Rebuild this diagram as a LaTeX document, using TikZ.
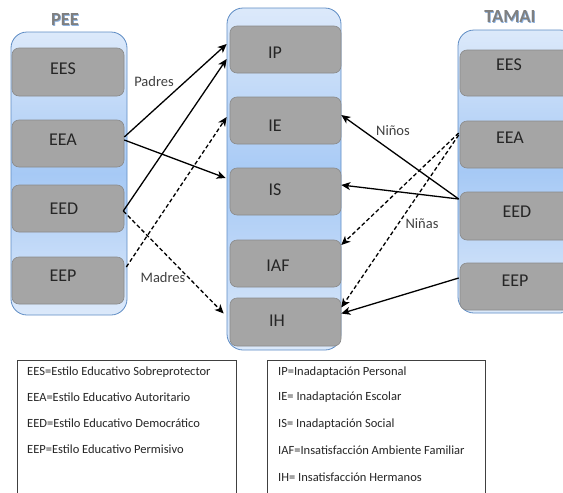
\documentclass[tikz,border=0pt]{standalone}
\usepackage{fontspec}
\setmainfont{Carlito}
\usetikzlibrary{arrows.meta,calc}
\definecolor{cTop}{HTML}{DCE9FA}
\definecolor{cMid}{HTML}{A6C9F5}
\definecolor{cBorder}{HTML}{5E8CC4}
\definecolor{bFill}{HTML}{A5A5A5}
\definecolor{bBorder}{HTML}{8A8A8A}
\definecolor{txt}{HTML}{262626}
\definecolor{lbl}{HTML}{404040}
\definecolor{ttl}{HTML}{7F7F7F}
\definecolor{glow}{HTML}{8DB3E2}
\begin{document}
\begin{tikzpicture}[x=1pt,y=-1pt,
  container/.style={draw=cBorder, line width=0.8pt, rounded corners=16pt,
    top color=cTop, bottom color=cTop, middle color=cMid, inner sep=0pt},
  box/.style={draw=bBorder, fill=bFill, line width=0.6pt, rounded corners=7pt, inner sep=0pt},
  boxtext/.style={text=txt, font=\fontsize{18}{20}\selectfont, inner sep=0pt},
  lab/.style={text=lbl, font=\fontsize{14.5}{16}\selectfont, inner sep=0pt},
  ttlshadow/.style={text=glow, font=\bfseries\fontsize{18.5}{20}\selectfont, inner sep=0pt},
  ttltext/.style={text=ttl, font=\bfseries\fontsize{18.5}{20}\selectfont, inner sep=0pt},
  legbox/.style={draw=black!75, line width=0.6pt, fill=white, inner sep=0pt},
  legtext/.style={text=txt, anchor=west, font=\fontsize{12.5}{14}\selectfont, inner sep=0pt},
  arr/.style={-{Stealth[length=9pt,width=8pt,inset=2.5pt]}, line width=1.3pt, draw=black},
  darr/.style={arr, dash pattern=on 4pt off 2.5pt}]
\useasboundingbox (0,0) rectangle (563,493);
\clip (0,0) rectangle (563,493);

% titles
\node[ttlshadow] (tPEEs) at (65.8,20.8) {PEE};
\node[ttltext] (tPEE) at (65,20) {PEE};
\node[ttlshadow] (tTAMs) at (510.8,17.8) {TAMAI};
\node[ttltext] (tTAM) at (510,17) {TAMAI};

% containers
\node[container, minimum width=116, minimum height=283] (cL) at (69,173.5) {};
\node[container, minimum width=114, minimum height=342] (cM) at (284,179) {};
\node[container, minimum width=118, minimum height=283] (cR) at (517,171.5) {};

% left boxes
\node[box, minimum width=112, minimum height=48] (LEES) at (68,72) {};
\node[box, minimum width=112, minimum height=47] (LEEA) at (68,143.5) {};
\node[box, minimum width=112, minimum height=47] (LEED) at (68,208.5) {};
\node[box, minimum width=112, minimum height=47] (LEEP) at (68,280.5) {};
\node[boxtext] (tLEES) at (63,69) {EES};
\node[boxtext] (tLEEA) at (63,140) {EEA};
\node[boxtext] (tLEED) at (64,209) {EED};
\node[boxtext] (tLEEP) at (63,276) {EEP};

% middle boxes
\node[box, minimum width=111, minimum height=47] (IP) at (285.5,49.5) {};
\node[box, minimum width=111, minimum height=47] (IE) at (285.5,120.5) {};
\node[box, minimum width=111, minimum height=47] (IS) at (285.5,191.5) {};
\node[box, minimum width=111, minimum height=47] (IAF) at (285.5,263.5) {};
\node[box, minimum width=111, minimum height=48] (IH) at (285.5,322) {};
\node[boxtext] (tIP) at (275,53) {IP};
\node[boxtext] (tIE) at (275,126) {IE};
\node[boxtext] (tIS) at (275,190) {IS};
\node[boxtext] (tIAF) at (278,266) {IAF};
\node[boxtext] (tIH) at (277,321) {IH};

% right boxes
\node[box, minimum width=114, minimum height=46] (REES) at (517,73) {};
\node[box, minimum width=114, minimum height=47] (REEA) at (517,144.5) {};
\node[box, minimum width=114, minimum height=48] (REED) at (517,216) {};
\node[box, minimum width=114, minimum height=47] (REEP) at (517,286.5) {};
\node[boxtext] (tREES) at (509,65) {EES};
\node[boxtext] (tREEA) at (510,138) {EEA};
\node[boxtext] (tREED) at (517,212) {EED};
\node[boxtext] (tREEP) at (515,281) {EEP};

% left connectors
\draw[arr] ([yshift=6.5pt]LEEA.east) -- ([xshift=-3pt,yshift=5.5pt]IP.west);
\draw[arr] ([yshift=3.5pt]LEEA.east) -- ([xshift=-4pt,yshift=13.5pt]IS.west);
\draw[arr] ([xshift=-1pt,yshift=-2.5pt]LEED.east) -- ([xshift=-3pt,yshift=-9.5pt]IP.west);
\draw[darr] ([xshift=-1pt,yshift=-2.5pt]LEED.east) -- ([xshift=-6pt,yshift=8.5pt]IH.west);
\draw[darr] ([xshift=2pt,yshift=13.5pt]LEEP.east) -- ([xshift=-3pt,yshift=3.5pt]IE.west);

% right connectors
\draw[arr] ([xshift=-1pt,yshift=17pt]REED.west) -- ([yshift=5.5pt]IE.east);
\draw[arr] ([xshift=-1pt,yshift=17pt]REED.west) -- ([yshift=6.5pt]IS.east);
\draw[darr] ([xshift=-1pt,yshift=11.5pt]REEA.west) -- ([yshift=18.5pt]IAF.east);
\draw[darr] ([xshift=-1pt,yshift=9.5pt]REEA.west) -- ([yshift=14.5pt]IH.east);
\draw[arr] ([xshift=-1pt,yshift=8.5pt]REEP.west) -- ([yshift=8.5pt]IH.east);

% connector labels
\node[lab] (padres) at (154,82) {Padres};
\node[lab] (madres) at (163,278) {Madres};
\node[lab] (ninos) at (393,131) {Niños};
\node[lab] (ninas) at (422,224) {Niñas};

% legends
\node[legbox, minimum width=219, minimum height=150] (legL) at (126.5,435) {};
\node[legbox, minimum width=218, minimum height=150] (legR) at (376.5,435) {};
\node[legtext] (l1) at (27,372) {EES=Estilo Educativo Sobreprotector};
\node[legtext] (l2) at (27,397) {EEA=Estilo Educativo Autoritario};
\node[legtext] (l3) at (27,423) {EED=Estilo Educativo Democrático};
\node[legtext] (l4) at (27,449) {EEP=Estilo Educativo Permisivo};
\node[legtext] (r1) at (278,372) {IP=Inadaptación Personal};
\node[legtext] (r2) at (278,397) {IE= Inadaptación Escolar};
\node[legtext] (r3) at (278,424) {IS= Inadaptación Social};
\node[legtext] (r4) at (278,450) {IAF=Insatisfacción Ambiente Familiar};
\node[legtext] (r5) at (278,477) {IH= Insatisfacción Hermanos};
\end{tikzpicture}
\end{document}
